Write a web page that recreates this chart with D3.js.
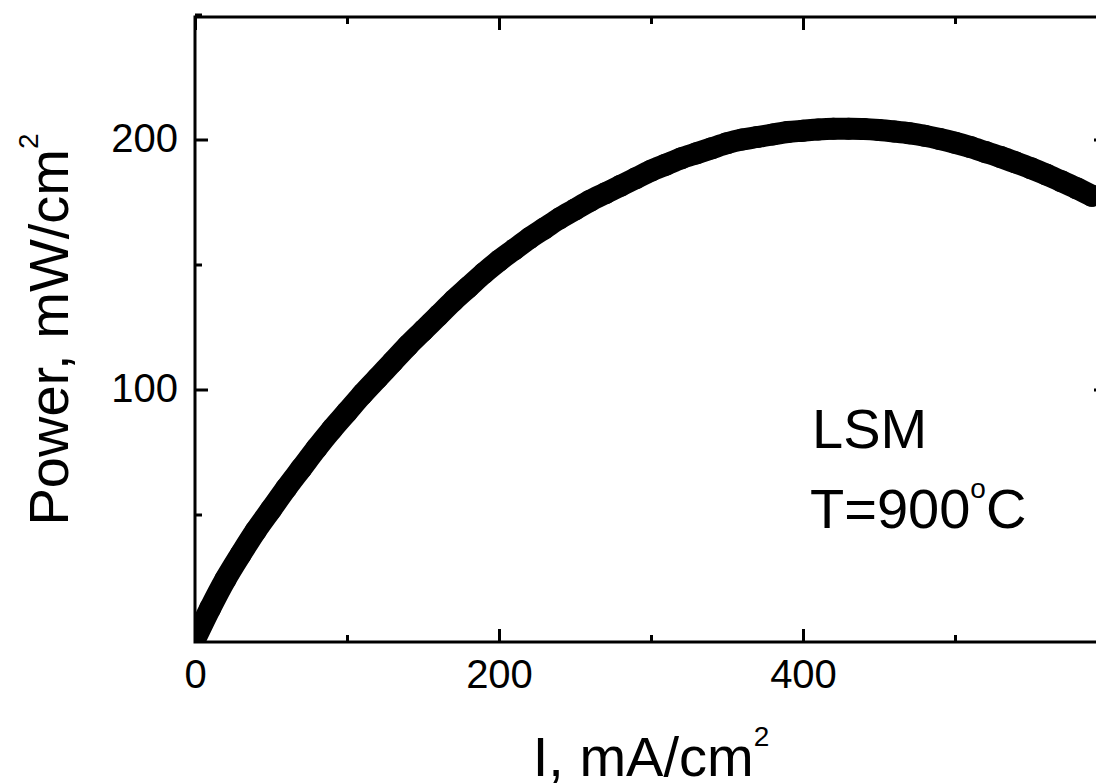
<!DOCTYPE html>
<html>
<head>
<meta charset="utf-8">
<script src="https://cdn.jsdelivr.net/npm/d3@7/dist/d3.min.js"></script>
<style>
  html, body { margin: 0; padding: 0; background: #fff; }
  svg { display: block; }
  text { font-family: "Liberation Sans", Arial, sans-serif; fill: #000; }
</style>
</head>
<body>
<svg id="chart" width="1096" height="783"></svg>
<script>
// ---- data ----
const currentDensity = [0,10,20,30,40,50,60,70,80,90,100,110,120,130,140,150,160,170,180,190,
  200,210,220,230,240,250,260,270,280,290,300,310,320,330,340,350,360,370,380,390,
  400,410,420,430,440,450,460,470,480,490,500,510,520,530,540,550,560,570,580,590];
const powerDensity = [0,12.5,24,34,43.5,52,60.5,68.5,76.5,84,91,98,104.5,111,117.5,123.5,129.5,135.5,141,146.5,
  151.5,156,160.5,164.5,168.5,172,175.5,178.5,181.5,184.5,187.5,190,192.5,194.5,196.5,198.5,200,201,202,203,
  203.5,204,204.3,204.3,204.2,203.8,203.2,202.5,201.5,200.2,198.7,197,195,193,190.8,188.5,186,183.3,180.5,177.5];
const xLabelTicks = [0, 200, 400];
const xMajorTicks = [0, 200, 400, 600];
const xMinorTicks = [100, 300, 500];
const yMajorTicks = [100, 200];
const yMinorTicks = [50, 150, 250];
const xDomain = [0, 600];
const yDomain = [-1, 249];
const xTitle = "I, mA/cm";
const yTitle = "Power, mW/cm";
const note1 = "LSM";
const note2 = "T=900";

(function () {
// ---- layout ----
const svg = d3.select("#chart");
const pL = 195, pR = 1107, pT = 17, pB = 642;
const x = d3.scaleLinear().domain(xDomain).range([pL, pR]);
const y = d3.scaleLinear().domain(yDomain).range([pB, pT]);
const data = currentDensity.map((d, i) => ({ i: d, p: powerDensity[i] }));

svg.append("defs").append("clipPath").attr("id", "plotclip")
  .append("rect").attr("x", pL).attr("y", pT).attr("width", pR - pL).attr("height", pB - pT);

// curve: dense thick marker band
const g = svg.append("g").attr("clip-path", "url(#plotclip)");
const line = d3.line().x(d => x(d.i)).y(d => y(d.p)).curve(d3.curveCatmullRom);
g.append("path").datum(data).attr("d", line)
  .attr("fill", "none").attr("stroke", "#000").attr("stroke-width", 22)
  .attr("stroke-linecap", "round").attr("stroke-linejoin", "round");
g.selectAll("circle").data(data).join("circle")
  .attr("cx", d => x(d.i)).attr("cy", d => y(d.p)).attr("r", 11).attr("fill", "#000");

// axes (inward ticks on all four sides)
const majorLen = 13, minorLen = 7;
function inward(axis, len) { return axis.tickSizeInner(-len).tickSizeOuter(0); }
const axStyle = sel => {
  sel.select(".domain").remove();
  sel.selectAll(".tick line").attr("stroke", "#000").attr("stroke-width", 3);
};
// bottom
svg.append("g").attr("transform", `translate(0,${pB})`)
  .call(inward(d3.axisBottom(x).tickValues(xLabelTicks).tickFormat(d3.format("d")), majorLen).tickPadding(18))
  .call(axStyle)
  .call(s => s.selectAll("text").attr("font-size", 40).attr("font-family", "Liberation Sans, Arial, sans-serif"));
svg.append("g").attr("transform", `translate(0,${pB})`)
  .call(inward(d3.axisBottom(x).tickValues(xMajorTicks).tickFormat(""), majorLen)).call(axStyle);
svg.append("g").attr("transform", `translate(0,${pB})`)
  .call(inward(d3.axisBottom(x).tickValues(xMinorTicks).tickFormat(""), minorLen)).call(axStyle);
// top
svg.append("g").attr("transform", `translate(0,${pT})`)
  .call(inward(d3.axisTop(x).tickValues(xMajorTicks).tickFormat(""), majorLen)).call(axStyle);
svg.append("g").attr("transform", `translate(0,${pT})`)
  .call(inward(d3.axisTop(x).tickValues(xMinorTicks).tickFormat(""), minorLen)).call(axStyle);
// left
svg.append("g").attr("transform", `translate(${pL},0)`)
  .call(inward(d3.axisLeft(y).tickValues(yMajorTicks).tickFormat(d3.format("d")), majorLen).tickPadding(17))
  .call(axStyle)
  .call(s => s.selectAll("text").attr("font-size", 40).attr("dy", "0.30em").attr("font-family", "Liberation Sans, Arial, sans-serif"));
svg.append("g").attr("transform", `translate(${pL},0)`)
  .call(inward(d3.axisLeft(y).tickValues(yMinorTicks).tickFormat(""), minorLen)).call(axStyle);
// right
svg.append("g").attr("transform", `translate(${pR},0)`)
  .call(inward(d3.axisRight(y).tickValues(yMajorTicks).tickFormat(""), majorLen)).call(axStyle);
svg.append("g").attr("transform", `translate(${pR},0)`)
  .call(inward(d3.axisRight(y).tickValues(yMinorTicks).tickFormat(""), minorLen)).call(axStyle);

// frame
svg.append("rect").attr("x", pL).attr("y", pT).attr("width", pR - pL).attr("height", pB - pT)
  .attr("fill", "none").attr("stroke", "#000").attr("stroke-width", 3);

// x title
const xt = svg.append("text").attr("x", (pL + pR) / 2).attr("y", 776)
  .attr("text-anchor", "middle").attr("font-size", 56);
xt.append("tspan").text(xTitle);
xt.append("tspan").attr("font-size", 28).attr("dy", -30).text("2");

// y title
const yt = svg.append("text").attr("transform", `translate(68,${(pT + pB) / 2}) rotate(-90)`)
  .attr("text-anchor", "middle").attr("font-size", 56);
yt.append("tspan").text(yTitle);
yt.append("tspan").attr("font-size", 28).attr("dy", -30).text("2");

// annotations
svg.append("text").attr("x", 812).attr("y", 448).attr("font-size", 56).text(note1);
const t2 = svg.append("text").attr("x", 810).attr("y", 528).attr("font-size", 56);
t2.append("tspan").text(note2);
t2.append("tspan").attr("font-size", 28).attr("dy", -30).text("o");
t2.append("tspan").attr("font-size", 56).attr("dy", 30).text("C");
})();
</script>
</body>
</html>
